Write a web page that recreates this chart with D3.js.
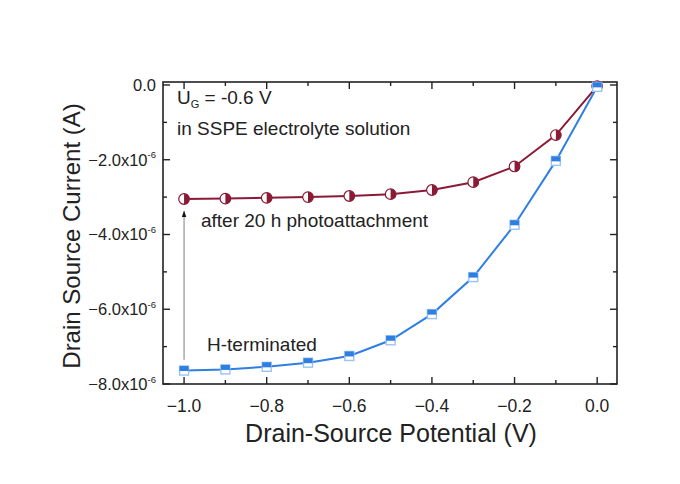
<!DOCTYPE html>
<html>
<head>
<meta charset="utf-8">
<script src="https://cdn.jsdelivr.net/npm/d3@7"></script>
<style>
  html, body { margin: 0; padding: 0; background: #fff; }
  svg { display: block; }
  text { font-family: "Liberation Sans", Arial, sans-serif; fill: #222; }
</style>
</head>
<body>
<svg id="chart" width="680" height="484"></svg>
<script>
// Drain-source potential (V)
const potential = [-1.0, -0.9, -0.8, -0.7, -0.6, -0.5, -0.4, -0.3, -0.2, -0.1, 0.0];
// Drain-source current (A), H-terminated surface
const currentHTerminated = [-7.64e-6, -7.61e-6, -7.54e-6, -7.43e-6, -7.25e-6, -6.83e-6, -6.13e-6, -5.14e-6, -3.74e-6, -2.03e-6, -0.05e-6];
// Drain-source current (A), after 20 h photoattachment
const currentPhoto = [-3.05e-6, -3.04e-6, -3.02e-6, -3.0e-6, -2.97e-6, -2.92e-6, -2.81e-6, -2.6e-6, -2.18e-6, -1.34e-6, -0.03e-6];

const xMajorTicks = [-1.0, -0.8, -0.6, -0.4, -0.2, 0.0];
const xMinorTicks = [-0.9, -0.7, -0.5, -0.3, -0.1];
const yMajorTicks = [0, -2e-6, -4e-6, -6e-6, -8e-6];
const yMinorTicks = [-1e-6, -3e-6, -5e-6, -7e-6];

const svg = d3.select("#chart");
const plotL = 163, plotR = 617, plotT = 82, plotB = 384;

const x = d3.scaleLinear().domain([-1.051, 0.048]).range([plotL, plotR]);
const y = d3.scaleLinear().domain([-8.0e-6, 0.08e-6]).range([plotB, plotT]);

const red = "#8a1a36";
const blue = "#2f7fe3";
const blueLight = "#9cc3f4";

// frame
svg.append("rect")
  .attr("x", plotL).attr("y", plotT)
  .attr("width", plotR - plotL).attr("height", plotB - plotT)
  .attr("fill", "none").attr("stroke", "#222").attr("stroke-width", 1.6);

// inward ticks on all four sides
const majorLen = 7, minorLen = 4;
const tickG = svg.append("g").attr("stroke", "#222").attr("stroke-width", 1.4);
function xTicks(vals, len) {
  vals.forEach(v => {
    tickG.append("line").attr("x1", x(v)).attr("x2", x(v)).attr("y1", plotB).attr("y2", plotB - len);
    tickG.append("line").attr("x1", x(v)).attr("x2", x(v)).attr("y1", plotT).attr("y2", plotT + len);
  });
}
function yTicks(vals, len) {
  vals.forEach(v => {
    tickG.append("line").attr("y1", y(v)).attr("y2", y(v)).attr("x1", plotL).attr("x2", plotL + len);
    tickG.append("line").attr("y1", y(v)).attr("y2", y(v)).attr("x1", plotR).attr("x2", plotR - len);
  });
}
xTicks(xMajorTicks, majorLen); xTicks(xMinorTicks, minorLen);
yTicks(yMajorTicks, majorLen); yTicks(yMinorTicks, minorLen);

// x tick labels
svg.append("g").selectAll("text").data(xMajorTicks).join("text")
  .attr("x", d => x(d)).attr("y", plotB + 28)
  .attr("text-anchor", "middle").attr("font-size", 17.5)
  .text(d => d3.format(".1f")(d));

// y tick labels in "m.0x10^-6" form
const yl = svg.append("g");
yMajorTicks.forEach(v => {
  const t = yl.append("text")
    .attr("x", plotL - 7).attr("y", y(v) + 6)
    .attr("text-anchor", "end").attr("font-size", 16.5);
  if (v === 0) {
    t.text("0.0");
  } else {
    t.append("tspan").text(d3.format(".1f")(v / 1e-6) + "x10");
    t.append("tspan").attr("font-size", 9.5).attr("dy", -7.5).text("-6");
  }
});

// axis titles
svg.append("text")
  .attr("x", 391).attr("y", 442)
  .attr("text-anchor", "middle").attr("font-size", 25)
  .text("Drain-Source Potential (V)");
svg.append("text")
  .attr("transform", "translate(80,236) rotate(-90)")
  .attr("text-anchor", "middle").attr("font-size", 24)
  .text("Drain Source Current (A)");

// series lines
const line = d3.line().x((d, i) => x(potential[i])).y(d => y(d));
svg.append("path").datum(currentPhoto)
  .attr("d", line).attr("fill", "none").attr("stroke", red).attr("stroke-width", 2);
svg.append("path").datum(currentHTerminated)
  .attr("d", line).attr("fill", "none").attr("stroke", blue).attr("stroke-width", 2);

// half-filled circles (right half filled)
const r = 5.3;
const circG = svg.append("g");
currentPhoto.forEach((v, i) => {
  const cx = x(potential[i]), cy = y(v);
  circG.append("circle").attr("cx", cx).attr("cy", cy).attr("r", r)
    .attr("fill", "#fff").attr("stroke", red).attr("stroke-width", 1.2);
  circG.append("path")
    .attr("d", `M${cx},${cy - r} A${r},${r} 0 0 1 ${cx},${cy + r} Z`)
    .attr("fill", red);
});

// half-filled squares (top half filled)
const s = 9;
const sqG = svg.append("g");
currentHTerminated.forEach((v, i) => {
  const cx = x(potential[i]), cy = y(v);
  sqG.append("rect").attr("x", cx - s / 2).attr("y", cy - s / 2)
    .attr("width", s).attr("height", s)
    .attr("fill", "#fff").attr("stroke", blueLight).attr("stroke-width", 1.4);
  sqG.append("rect").attr("x", cx - s / 2).attr("y", cy - s / 2)
    .attr("width", s).attr("height", s / 2 + 0.5)
    .attr("fill", blue);
});

// arrow from the H-terminated curve to the photoattached curve
const ax = x(potential[0]);
svg.append("defs").append("marker")
  .attr("id", "head").attr("viewBox", "0 0 10 10")
  .attr("refX", 9).attr("refY", 5)
  .attr("markerWidth", 6).attr("markerHeight", 7)
  .attr("orient", "auto")
  .append("path").attr("d", "M0,1.5 L10,5 L0,8.5 Z").attr("fill", "#111");
svg.append("line")
  .attr("x1", ax).attr("x2", ax)
  .attr("y1", y(-7.35e-6)).attr("y2", y(-3.38e-6))
  .attr("stroke", "#8a8a8a").attr("stroke-width", 1.1)
  .attr("marker-end", "url(#head)");

// annotations
const ug = svg.append("text").attr("x", 177).attr("y", 104).attr("font-size", 19);
ug.append("tspan").text("U");
ug.append("tspan").attr("font-size", 11).attr("dy", 4).text("G");
ug.append("tspan").attr("dy", -4).text(" = -0.6 V");
svg.append("text").attr("x", 177).attr("y", 135).attr("font-size", 19)
  .text("in SSPE electrolyte solution");
svg.append("text").attr("x", 201).attr("y", 227).attr("font-size", 19)
  .text("after 20 h photoattachment");
svg.append("text").attr("x", 207).attr("y", 351).attr("font-size", 19)
  .text("H-terminated");
</script>
</body>
</html>
